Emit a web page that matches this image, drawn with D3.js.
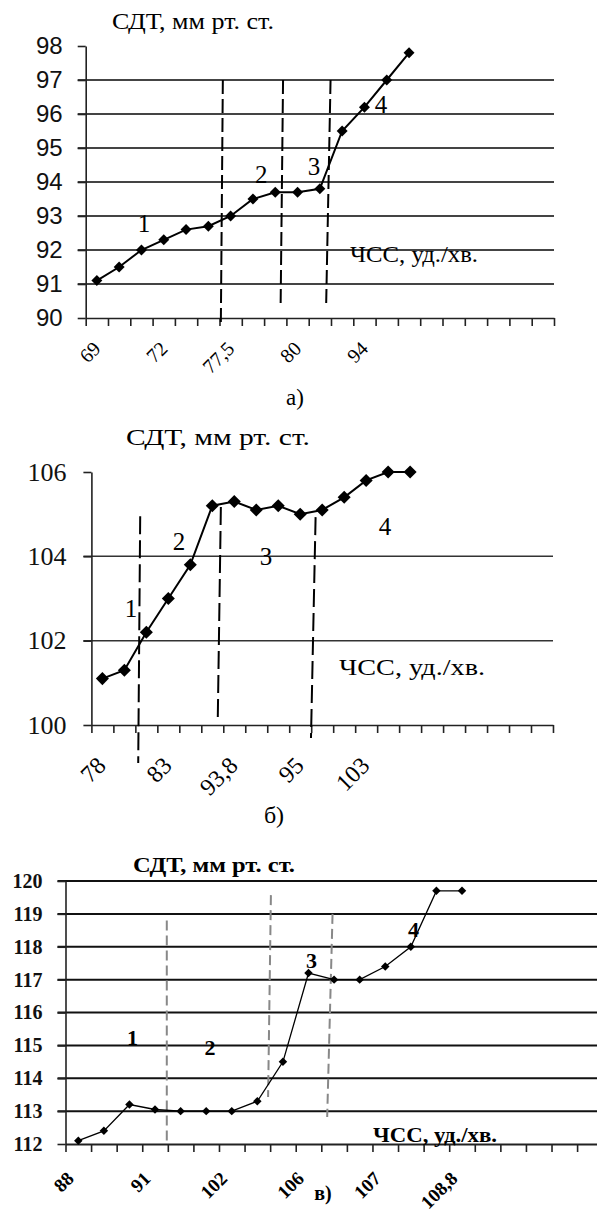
<!DOCTYPE html>
<html>
  <head>
    <meta charset="UTF-8" />
    <style>
      body { margin: 0; background: #fff; }
      svg { display: block; }
    </style>
  </head>
  <body>
    <svg></svg>
    <script src="https://d3js.org/d3.v7.min.js"></script>
    <script>
      // chart а)
      const aValues = [91.1, 91.5, 92.0, 92.3, 92.6, 92.7, 93.0, 93.5, 93.7, 93.7, 93.8, 95.5, 96.2, 97.0, 97.8];
      const aTickLabels = ["69", "72", "77,5", "80", "94"];
      const aYTicks = [90, 91, 92, 93, 94, 95, 96, 97, 98];
      const aGrid = [91, 92, 93, 94, 95, 96, 97];
      // phase borders in data units: [catTop, valTop, catBottom, valBottom]
      const aBorders = [[6.15, 97, 6.06, 89.8], [8.85, 97, 8.74, 90.3], [10.98, 97, 10.78, 90.3]];
      const aPhases = [["1", 2.61, 92.53], ["2", 7.87, 93.97], ["3", 10.24, 94.2], ["4", 13.24, 96.03]];

      // chart б)
      const bValues = [101.1, 101.3, 102.2, 103.0, 103.8, 105.2, 105.3, 105.1, 105.2, 105.0, 105.1, 105.4, 105.8, 106.0, 106.0];
      const bTickLabels = ["78", "83", "93,8", "95", "103"];
      const bYTicks = [100, 102, 104, 106];
      const bGrid = [102, 104];
      const bBorders = [[2.22, 104.95, 2.13, 99.1], [5.89, 105.17, 5.75, 100.17], [10.2, 104.93, 9.99, 99.69]];
      const bPhases = [["1", 1.8, 102.56], ["2", 3.99, 104.15], ["3", 7.94, 103.79], ["4", 13.36, 104.5]];

      // chart в)
      const cValues = [112.1, 112.4, 113.2, 113.05, 113.0, 113.0, 113.0, 113.3, 114.5, 117.2, 117.0, 117.0, 117.4, 118.0, 119.7, 119.7];
      const cTickLabels = ["88", "91", "102", "106", "107", "108,8"];
      const cYTicks = [112, 113, 114, 115, 116, 117, 118, 119, 120];
      const cGrid = [113, 114, 115, 116, 117, 118, 119, 120];
      const cBorders = [[3.96, 118.8, 3.96, 112.0], [8.03, 119.57, 7.92, 113.43], [10.44, 119.0, 10.23, 112.82]];
      const cPhases = [["1", 2.62, 115.01], ["2", 5.65, 114.71], ["3", 9.62, 117.35], ["4", 13.6, 118.3]];

      const serif = "'Liberation Serif', 'Times New Roman', serif";
      const sans = "'Liberation Sans', Arial, sans-serif";

      const svg = d3.select("svg").attr("width", 597).attr("height", 1216);

      function drawChart(cfg) {
        const g = svg.append("g");
        const x = d3.scaleLinear().domain([0, cfg.n]).range([cfg.left, cfg.left + cfg.n * cfg.step]);
        const y = d3.scaleLinear().domain([cfg.yTicks[0], cfg.yTicks[cfg.yTicks.length - 1]]).range([cfg.bottom, cfg.top]);

        // horizontal grid
        g.selectAll(".grid")
          .data(cfg.grid)
          .join("line")
          .attr("x1", cfg.left - cfg.tick)
          .attr("x2", cfg.gridRight)
          .attr("y1", (d) => y(d))
          .attr("y2", (d) => y(d))
          .attr("stroke", cfg.gridColor)
          .attr("stroke-width", cfg.gridWidth);

        // y axis
        const yAxis = g.append("g")
          .attr("transform", "translate(" + cfg.left + ",0)")
          .call(d3.axisLeft(y).tickValues(cfg.yTicks).tickFormat(d3.format("d")).tickSize(cfg.tick).tickSizeOuter(0).tickPadding(cfg.yPad));
        yAxis.selectAll("path, line").attr("stroke", "#222").attr("stroke-width", 1.6);
        yAxis.selectAll("text")
          .attr("font-family", cfg.yFont)
          .attr("font-size", cfg.ySize)
          .attr("font-weight", cfg.bold ? "bold" : null)
          .attr("fill", "#111");

        // x axis, ticks on category borders
        const xAxis = g.append("g")
          .attr("transform", "translate(0," + cfg.bottom + ")")
          .call(d3.axisBottom(x).tickValues(d3.range(0, cfg.n + 1)).tickFormat("").tickSize(cfg.tick).tickSizeOuter(0));
        xAxis.select("path").attr("stroke", "#222").attr("stroke-width", cfg.bold ? 2 : 1.6);
        xAxis.selectAll("line").attr("stroke", "#222").attr("stroke-width", 1.6);

        // category labels, every 3rd category
        g.selectAll(".xl")
          .data(cfg.labels)
          .join("text")
          .attr("transform", (d, i) => "translate(" + (x(i * 3 + 0.5) + cfg.lx) + "," + (cfg.bottom + cfg.ly) + ") rotate(-45)")
          .attr("text-anchor", "end")
          .attr("dy", "0.35em")
          .attr("font-family", serif)
          .attr("font-size", cfg.xSize)
          .attr("font-weight", cfg.bold ? "bold" : null)
          .text((d) => d);

        // phase borders
        g.selectAll(".border")
          .data(cfg.borders)
          .join("line")
          .attr("x1", (d) => x(d[0]))
          .attr("y1", (d) => y(d[1]))
          .attr("x2", (d) => x(d[2]))
          .attr("y2", (d) => y(d[3]))
          .attr("stroke", cfg.dashColor)
          .attr("stroke-width", 2)
          .attr("stroke-dasharray", cfg.dash);

        // line
        const line = d3.line().x((d, i) => x(i + 0.5)).y((d) => y(d));
        g.append("path")
          .datum(cfg.values)
          .attr("d", line)
          .attr("fill", "none")
          .attr("stroke", "#000")
          .attr("stroke-width", cfg.lineWidth);

        g.selectAll(".pt")
          .data(cfg.values)
          .join("path")
          .attr("d", d3.symbol(d3.symbolSquare, cfg.marker))
          .attr("transform", (d, i) => "translate(" + x(i + 0.5) + "," + y(d) + ") rotate(45)")
          .attr("fill", "#000");

        // phase numbers
        g.selectAll(".ph")
          .data(cfg.phases)
          .join("text")
          .attr("x", (d) => x(d[1]))
          .attr("y", (d) => y(d[2]))
          .attr("text-anchor", "middle")
          .attr("font-family", serif)
          .attr("font-size", cfg.phSize)
          .attr("font-weight", cfg.bold ? "bold" : null)
          .text((d) => d[0]);

        // titles
        cfg.texts.forEach((t) => {
          g.append("text")
            .attr("x", t.x)
            .attr("y", t.y)
            .attr("text-anchor", t.anchor || "start")
            .attr("font-family", serif)
            .attr("font-size", t.size)
            .attr("font-weight", cfg.bold ? "bold" : null)
            .attr("textLength", t.len || null)
            .attr("lengthAdjust", "spacingAndGlyphs")
            .text(t.text);
        });
      }

      drawChart({
        values: aValues, labels: aTickLabels, yTicks: aYTicks, grid: aGrid, borders: aBorders, phases: aPhases,
        n: 21, left: 85.7, step: 22.3, top: 46, bottom: 318, gridRight: 554, tick: 8,
        gridColor: "#444", gridWidth: 2, yFont: sans, ySize: 24, yPad: 15,
        xSize: 20, lx: 0, ly: 27, dash: "14,5", dashColor: "#000", lineWidth: 2, marker: 60, phSize: 25,
        texts: [
          { text: "СДТ, мм рт. ст.", x: 112, y: 29, size: 23, len: 162 },
          { text: "ЧСС, уд./хв.", x: 350, y: 262, size: 23, len: 128 },
          { text: "а)", x: 295, y: 405, size: 23, anchor: "middle" },
        ],
      });

      drawChart({
        values: bValues, labels: bTickLabels, yTicks: bYTicks, grid: bGrid, borders: bBorders, phases: bPhases,
        n: 21, left: 91.4, step: 21.98, top: 472, bottom: 725, gridRight: 553, tick: 8,
        gridColor: "#333", gridWidth: 1.5, yFont: serif, ySize: 26, yPad: 17,
        xSize: 24, lx: -1, ly: 36, dash: "18,6", dashColor: "#000", lineWidth: 2, marker: 85, phSize: 25,
        texts: [
          { text: "СДТ, мм рт. ст.", x: 126, y: 445, size: 24, len: 184 },
          { text: "ЧСС, уд./хв.", x: 339, y: 675, size: 24, len: 146 },
          { text: "б)", x: 274, y: 823, size: 24, anchor: "middle" },
        ],
      });

      drawChart({
        values: cValues, labels: cTickLabels, yTicks: cYTicks, grid: cGrid, borders: cBorders, phases: cPhases,
        n: 22, left: 65.5, step: 25.58, top: 881, bottom: 1144, gridRight: 597, tick: 8, bold: true,
        gridColor: "#111", gridWidth: 2, yFont: serif, ySize: 20, yPad: 15,
        xSize: 19, lx: -8, ly: 31, dash: "10,5", dashColor: "#888", lineWidth: 1.3, marker: 36, phSize: 22,
        texts: [
          { text: "СДТ, мм рт. ст.", x: 133, y: 872, size: 20, len: 162 },
          { text: "ЧСС, уд./хв.", x: 373, y: 1142, size: 20, len: 124 },
          { text: "в)", x: 323, y: 1200, size: 20, anchor: "middle" },
        ],
      });
    </script>
  </body>
</html>
